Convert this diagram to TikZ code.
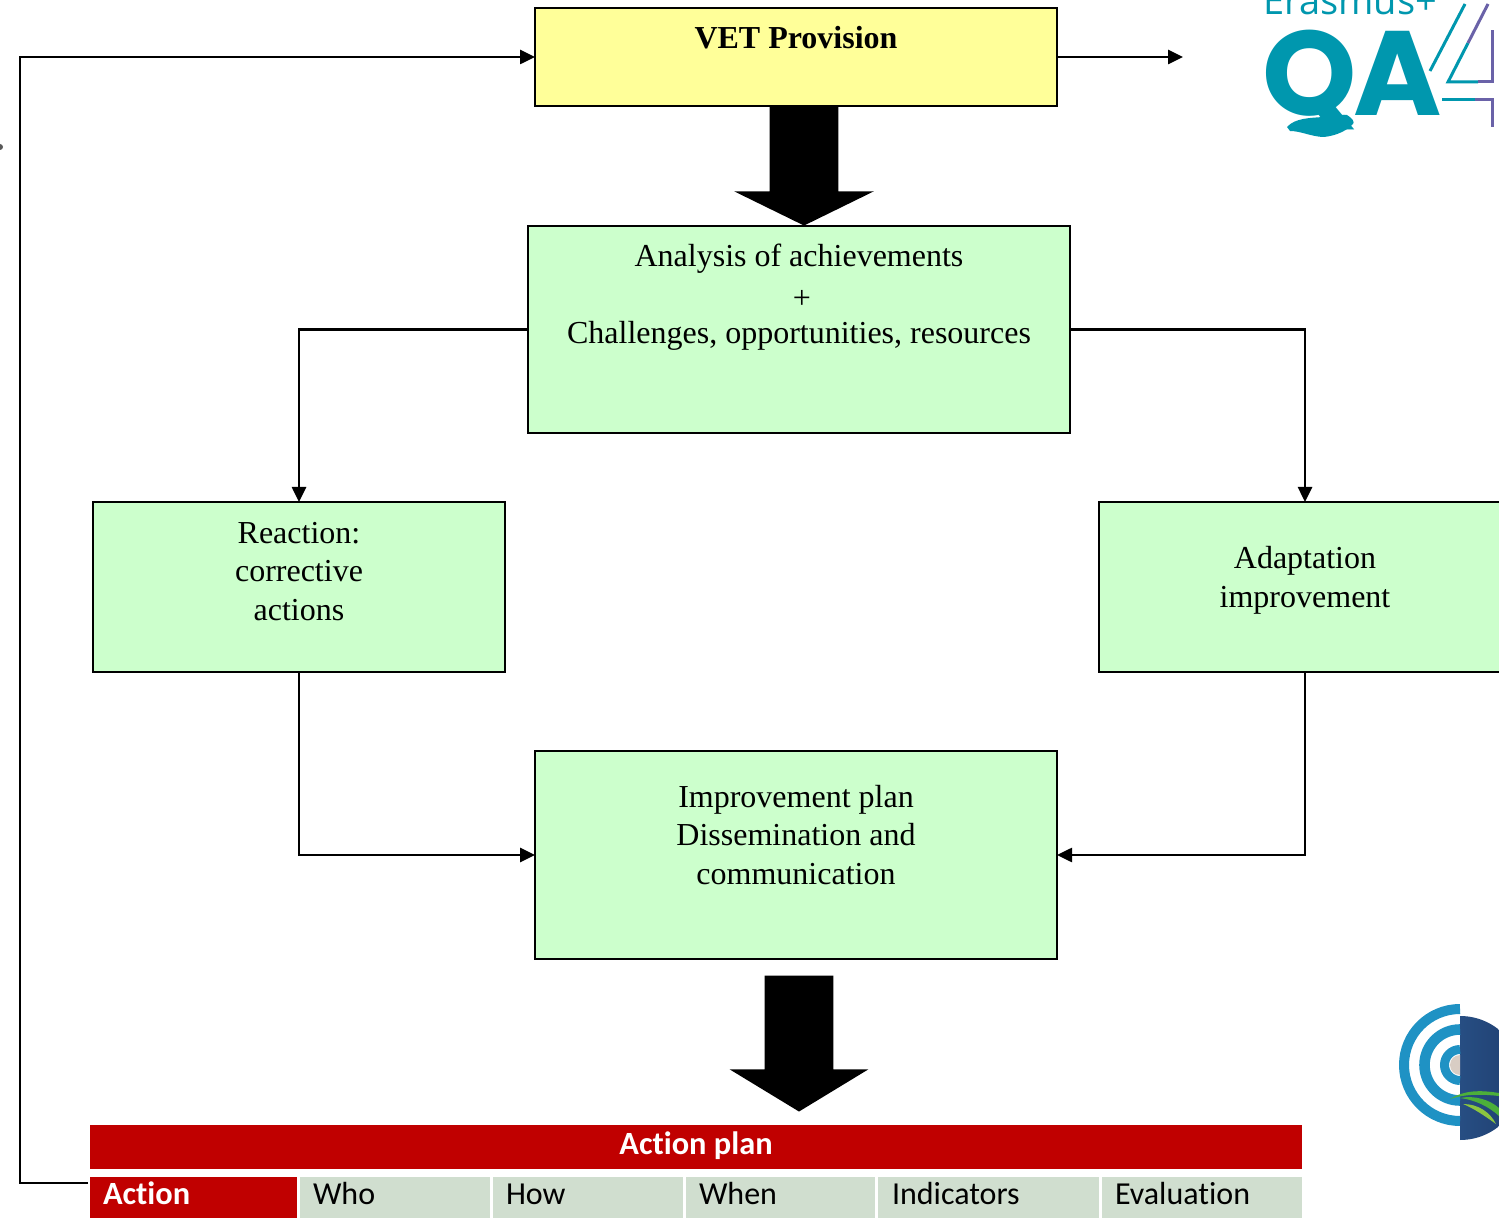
\documentclass[tikz,border=0pt]{standalone}
\usepackage{fontspec}
\setmainfont{Liberation Serif}
\newfontfamily\carlito[Ligatures=NoCommon]{Carlito}
\newfontfamily\logofont{Poppins}
\newfontfamily\logotext{Open Sans}
\usetikzlibrary{arrows.meta,shapes.arrows}
\definecolor{boxgreen}{HTML}{CCFFCC}
\definecolor{boxyellow}{HTML}{FFFF99}
\definecolor{planred}{HTML}{C00000}
\definecolor{cellgreen}{HTML}{D0DECF}
\definecolor{qateal}{HTML}{0097AE}
\definecolor{qapurple}{HTML}{6A62A8}
\definecolor{ringblue}{HTML}{1F92C4}
\definecolor{globeblue}{HTML}{2F5E95}
\definecolor{globedark}{HTML}{1F3E70}
\definecolor{leafgreen}{HTML}{4CAF3A}
\definecolor{leaflight}{HTML}{8CC63F}
\definecolor{coreskin}{HTML}{D8CDC4}
\newcommand{\BoxText}[4]{\parbox[c][#2][t]{#1}{\fontsize{16}{19.25}\selectfont\centering\rule{0pt}{#3}#4\par}}
\tikzset{
  x=0.5pt,y=-0.5pt,
  flowbox/.style={draw=black,line width=1pt,inner sep=0pt,outer sep=0pt},
  link/.style={draw=black,line width=1.3pt,-{Triangle[length=7.5pt,width=7pt]}},
  bigarrow/.style={shape=single arrow,fill=black,inner sep=0pt,rotate=-90,anchor=tip,single arrow head indent=0pt},
  headcell/.style={fill=cellgreen,text=black,inner xsep=0pt,inner ysep=0pt,outer sep=0pt,anchor=north west,font=\carlito\fontsize{16}{19}\selectfont,text height=13.5pt,text depth=7pt,align=left},
  redcell/.style={headcell,fill=planred,text=white,font=\carlito\bfseries\fontsize{16.2}{19}\selectfont},
  barcell/.style={fill=planred,text=white,inner sep=0pt,outer sep=0pt,font=\carlito\bfseries\fontsize{16.2}{19}\selectfont,text height=14.5pt,text depth=7.5pt,align=center},
}
\begin{document}
\begin{tikzpicture}
\useasboundingbox (0,0) rectangle (1499,1218);
\clip (0,0) rectangle (1499,1218);
\fill[white] (0,0) rectangle (1499,1218);

% flow boxes
\node[flowbox,fill=boxyellow] (vet) at (796,57) {\BoxText{261pt}{49pt}{20.5pt}{\bfseries VET Provision}};
\node[flowbox,fill=boxgreen] (analysis) at (799,329.5) {\BoxText{271pt}{103.5pt}{20.5pt}{Analysis of achievements\\[1.5pt]\hspace*{3pt}+\\[-1.5pt]Challenges, opportunities, resources}};
\node[flowbox,fill=boxgreen] (reaction) at (299,587) {\BoxText{206pt}{85pt}{21pt}{Reaction:\\[-0.3pt]corrective\\actions}};
\node[flowbox,fill=boxgreen] (adaptation) at (1305,587) {\BoxText{206pt}{85pt}{33.5pt}{Adaptation\\improvement}};
\node[flowbox,fill=boxgreen] (improve) at (796,855) {\BoxText{261pt}{104pt}{28pt}{Improvement plan\\Dissemination and\\communication}};

% big arrows
\node[bigarrow,minimum height=60pt,single arrow head extend=17.75pt,single arrow tip angle=127.8] (big1) at (804,226) {\rule{0pt}{34pt}};
\node[bigarrow,minimum height=68pt,single arrow head extend=17.5pt,single arrow tip angle=117.4] (big2) at (799,1112) {\rule{0pt}{34pt}};

% action plan table
\node[barcell,minimum width=606pt] (plan) at (696,1147) {Action plan};
\node[redcell,minimum width=103.5pt,text width=103.5pt] (action) at (90,1177) {\hspace*{6.5pt}Action};
\node[headcell,minimum width=95pt,text width=95pt] (who) at (300,1177) {\hspace*{6.5pt}Who};
\node[headcell,minimum width=95pt,text width=95pt] (how) at (493,1177) {\hspace*{6.5pt}How};
\node[headcell,minimum width=94.5pt,text width=94.5pt] (when) at (686,1177) {\hspace*{6.5pt}When};
\node[headcell,minimum width=110.5pt,text width=110.5pt] (indic) at (878,1177) {\hspace*{7pt}Indicators};
\node[headcell,minimum width=100pt,text width=100pt] (evalu) at (1102,1177) {\hspace*{6.5pt}Evaluation};

% connectors
\coordinate (outend) at (1183,57);
\coordinate (fbstart) at (88,1183);
\coordinate (fbcorner) at (20,1183);
\draw[link] (vet.east) -- (outend);
\draw[link] (analysis.west) -| (reaction.north);
\draw[link] (analysis.east) -| (adaptation.north);
\draw[link] (reaction.south) |- (improve.west);
\draw[link] (adaptation.south) |- (improve.east);
\draw[link] (fbstart) -- (fbcorner) |- (vet.west);

% stub at left edge
\fill[black!65] (0,147) circle[radius=3];

% QA4 logo
\node[anchor=base west,inner sep=0pt,text=qateal,font=\logotext\fontsize{19}{20}\selectfont] (erasmus) at (1263,15) {Erasmus+};
\node[anchor=base west,inner sep=0pt,text=qateal,font=\logofont\bfseries\fontsize{60}{60}\selectfont] (qa) at (1262,116) {Q\kern-1.5pt A};
\fill[qateal] (1287,127) .. controls (1295,118) and (1310,118) .. (1323,117) .. controls (1335,116) and (1345,114) .. (1347,115) .. controls (1352,118) and (1355,122) .. (1353,124) .. controls (1345,133) and (1330,137) .. (1322,137) .. controls (1310,136) and (1300,131) .. (1290,131) -- cycle;
\draw[qateal,line width=1.5pt] (1430,71) -- (1465,4);
\draw[qateal,line width=1.5pt] (1468,43) -- (1448,82) -- (1478,82);
\draw[qapurple,line width=1.5pt] (1488,4) -- (1468,43);
\draw[qapurple,line width=1.5pt] (1478,82) -- (1492,82) -- (1492,30);
\draw[qateal,line width=1.5pt] (1442,100) -- (1475,100);
\draw[qapurple,line width=1.5pt] (1475,100) -- (1492,100) -- (1492,127);

% globe logo
\begin{scope}
\clip (1460,1000) rectangle (1499,1150);
\shade[left color=globeblue,right color=globedark] (1460,1078) circle[radius=62];
\end{scope}
\draw[ringblue,line width=5pt] (1460,1009) arc[start angle=270,end angle=90,radius=56];
\draw[ringblue,line width=5.3pt] (1460,1029.5) arc[start angle=270,end angle=90,radius=35.5];
\draw[ringblue,line width=4.5pt] (1460,1049.5) arc[start angle=270,end angle=90,radius=15.5];
\fill[coreskin] (1460,1055) arc[start angle=270,end angle=90,radius=10] -- cycle;
\fill[leafgreen] (1450,1099) .. controls (1465,1090) and (1480,1090) .. (1499,1093) -- (1499,1096) .. controls (1480,1094) and (1465,1094) .. cycle;
\fill[leafgreen] (1460,1098) .. controls (1475,1095) and (1490,1100) .. (1499,1108) -- (1499,1116) .. controls (1488,1106) and (1475,1100) .. cycle;
\fill[leaflight] (1463,1104) .. controls (1478,1104) and (1490,1112) .. (1496,1124) .. controls (1485,1116) and (1473,1108) .. cycle;
\end{tikzpicture}
\end{document}
